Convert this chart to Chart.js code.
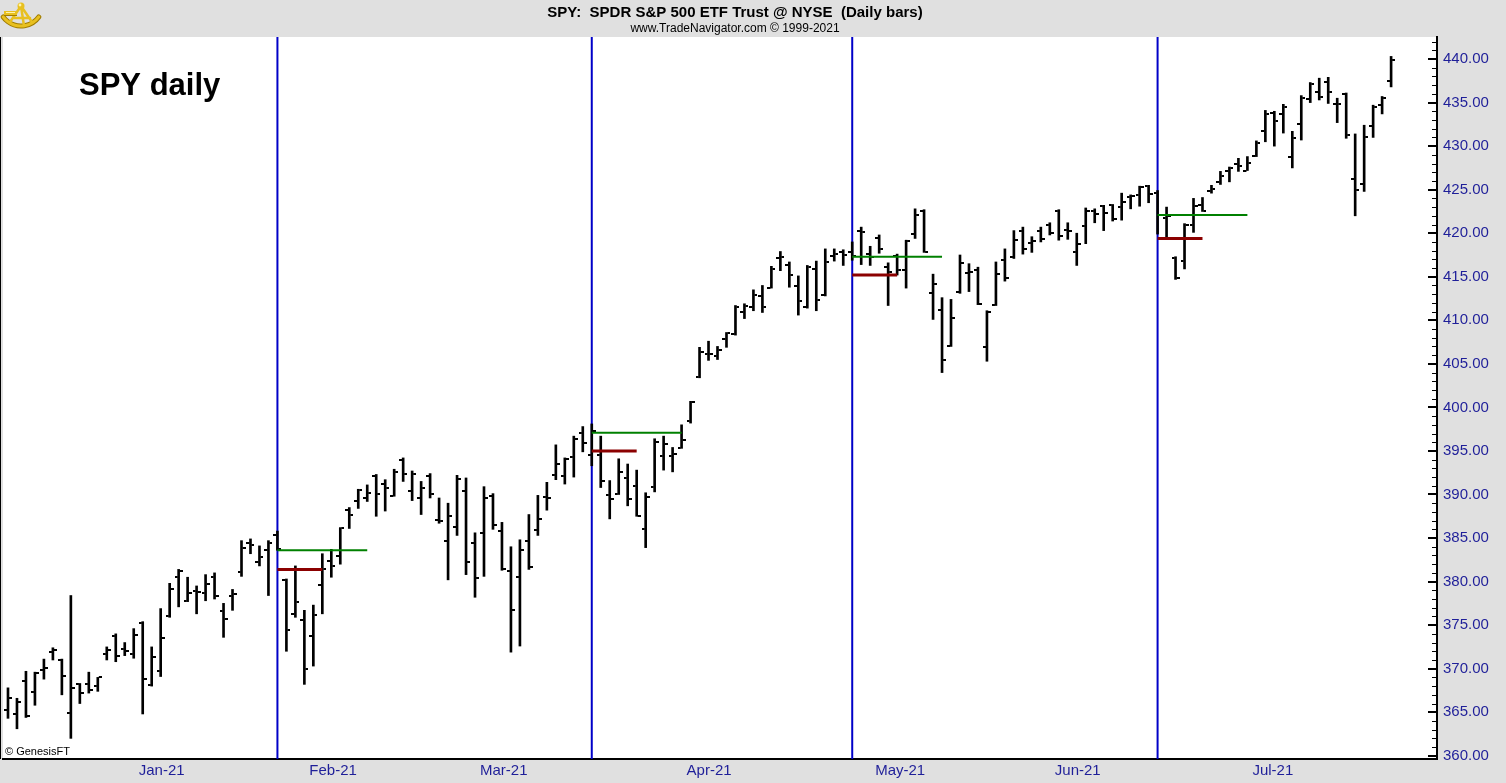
<!DOCTYPE html>
<html>
<head>
<meta charset="utf-8">
<script src="https://cdn.jsdelivr.net/npm/chart.js@4.4.1/dist/chart.umd.min.js"></script>
<style>
html,body{margin:0;padding:0;background:#e0e0e0;overflow:hidden;}
canvas{display:block;}
</style>
</head>
<body>
<canvas id="c" width="1506" height="783"></canvas>
<script>
// ---- DATA (SPY daily, Dec 10 2020 .. Jul 23 2021) ----
const opens = [365.2,364.8,368.6,367.3,369.8,371.9,371.0,364.9,368.2,368.2,368.0,371.7,373.8,372.3,371.7,
375.3,368.1,369.7,376.1,380.5,377.8,378.9,378.7,380.5,376.6,378.3,381.1,384.4,382.2,383.6,
385.4,380.2,376.3,375.6,373.7,379.6,382.4,382.9,388.2,389.3,389.6,392.1,391.2,389.8,394.0,
390.4,389.6,392.1,387.1,384.7,386.3,390.4,384.4,385.6,389.8,385.8,381.2,380.5,384.7,385.9,
389.7,392.2,392.1,394.3,397.1,394.5,394.5,389.9,390.0,391.9,391.0,386.0,390.9,394.4,394.4,
395.3,398.4,403.5,406.1,405.9,407.9,408.4,410.9,411.5,412.8,413.7,417.2,416.3,413.9,411.5,
415.9,412.9,417.4,417.9,417.8,420.3,417.6,419.4,416.1,417.4,415.8,419.9,422.5,413.1,411.2,
407.1,413.2,415.4,415.8,406.9,411.8,416.9,417.3,420.3,418.9,420.2,421.0,422.6,420.4,417.9,
420.8,422.6,423.1,423.2,423.0,424.2,424.4,425.4,424.6,421.7,417.1,416.8,420.9,423.2,424.9,
425.9,427.2,427.9,427.2,428.9,431.7,433.8,433.7,428.8,432.5,435.4,436.2,437.4,434.8,436.0,
426.2,425.7,432.3,434.7,437.5];
const highs = [367.8,366.6,369.7,369.6,371.1,372.4,371.1,378.4,368.3,369.6,369.0,372.5,374.0,373.0,374.6,
375.4,372.5,376.9,379.8,381.4,380.5,379.5,380.8,381.0,377.5,379.1,384.7,384.9,384.1,384.7,
385.8,380.3,381.8,376.7,377.3,383.2,383.7,386.2,388.5,390.6,391.1,392.3,391.7,392.9,394.2,
392.7,391.5,392.4,389.6,389.0,392.2,391.9,385.6,390.9,390.1,386.8,384.0,384.8,387.7,389.9,
391.4,395.7,394.2,396.7,397.8,398.1,396.7,391.6,394.1,393.5,392.8,390.2,396.4,396.7,395.4,
398.0,400.7,406.9,407.6,407.0,408.6,411.7,411.9,413.5,414.0,416.2,417.9,416.7,415.1,416.3,
416.8,418.2,418.2,418.1,419.0,420.7,418.5,419.8,416.6,417.6,419.2,422.8,422.7,415.3,412.6,
412.4,417.5,416.5,416.1,411.1,416.7,418.2,420.3,420.7,419.6,420.7,421.2,422.7,421.2,420.0,
422.9,422.8,423.2,423.3,424.6,424.4,425.4,425.5,424.9,423.0,417.3,421.1,424.0,424.1,425.5,
427.1,427.6,428.6,428.8,430.6,434.1,434.0,434.8,431.7,435.8,437.3,437.8,437.9,435.5,436.1,
431.4,432.4,434.7,435.7,440.3];
const lows = [364.3,363.1,364.4,365.8,368.8,371.0,367.0,362.0,366.0,367.2,367.4,371.0,370.8,371.5,371.2,
364.8,368.0,369.1,375.9,377.1,377.7,376.3,377.8,378.0,373.6,376.7,380.6,383.2,381.8,378.4,
383.6,372.0,375.9,368.2,370.3,376.3,380.5,382.0,386.1,388.4,389.2,387.5,388.1,389.8,391.5,
389.3,387.7,389.6,386.7,380.2,385.3,380.8,378.2,380.6,386.0,381.3,371.9,372.6,381.4,385.3,
388.2,391.7,391.2,392.0,394.9,393.3,390.8,387.2,390.0,388.7,387.5,383.9,390.3,392.8,392.6,
395.3,398.2,403.4,405.4,405.5,406.9,408.3,410.2,411.1,410.9,413.7,415.7,413.8,410.6,411.4,
411.1,412.8,416.8,416.3,416.9,416.4,416.3,417.7,411.7,415.2,413.7,419.4,417.8,410.1,404.0,
407.0,413.1,413.3,411.8,405.3,411.7,414.5,417.1,417.6,417.8,419.0,419.8,419.2,419.3,416.3,
418.8,421.2,420.3,421.4,421.5,422.8,423.1,423.5,419.9,419.3,414.7,415.9,420.1,422.5,424.6,
425.6,425.9,427.1,427.2,428.8,430.5,430.0,431.5,427.5,430.7,435.0,435.3,434.9,432.7,430.9,
422.0,424.8,431.0,433.7,436.8];
const closes = [366.6,366.2,364.6,369.5,370.1,372.2,369.2,367.8,367.2,367.6,369.0,372.2,371.4,372.0,373.9,
368.8,371.3,373.5,379.1,381.2,378.7,378.8,379.7,378.3,375.7,378.6,383.8,384.2,382.8,384.4,
383.7,374.4,377.6,370.0,376.2,381.5,381.8,386.2,387.7,390.5,390.2,390.1,390.7,392.6,392.3,
392.4,390.7,390.0,387.0,387.5,391.8,382.3,380.4,389.6,386.5,381.4,376.7,383.6,381.7,387.2,
389.6,393.5,394.1,396.4,395.9,397.3,391.5,389.5,392.6,389.5,387.5,389.7,396.0,395.8,394.7,
396.3,400.6,406.4,406.1,406.6,408.5,411.5,411.6,412.9,411.5,415.9,417.3,415.2,412.2,416.1,
412.3,416.7,417.6,417.5,417.4,420.1,417.3,418.2,415.6,415.8,419.1,422.1,417.9,414.2,405.4,
410.3,416.6,415.5,411.9,410.9,415.3,414.9,419.2,418.2,419.1,419.3,420.0,419.7,420.3,418.8,
422.6,422.2,422.3,421.6,423.6,424.3,425.3,424.5,422.1,422.0,414.9,420.9,423.1,422.6,425.1,
426.6,427.5,427.7,428.1,430.4,433.7,432.9,434.5,430.9,435.5,437.1,435.6,436.2,434.8,431.3,
425.0,431.1,434.5,435.5,439.9];
const monthLabels = ['Jan-21','Feb-21','Mar-21','Apr-21','May-21','Jun-21','Jul-21'];
const monthStartIdx = [15,34,53,76,97,117,139];
const eventIdx = [30,65,94,128];
const greenLevels = [383.6,397.1,417.3,422.1];
const redLevels = [381.4,395.0,415.2,419.4];
const greenSpan = 10;
const redSpan = 5;
const yTickValues = [360,365,370,375,380,385,390,395,400,405,410,415,420,425,430,435,440];

// ---- styling ----
const FONT = '"Liberation Sans", Arial, sans-serif';
const AXIS_TEXT = '#1f1f99';
const Y_MIN = 359.63, Y_MAX = 442.53;

function tickImage(side) {
  const c = document.createElement('canvas');
  c.width = 8; c.height = 2;
  const g = c.getContext('2d');
  g.fillStyle = '#000';
  if (side === 'L') g.fillRect(0, 0, 3, 2); else g.fillRect(5, 0, 3, 2);
  return c;
}
const openImg = tickImage('L');
const closeImg = tickImage('R');

const datasets = [];
// horizontal level lines (top)
eventIdx.forEach((e, k) => {
  datasets.push({type:'line', order:0, data:[{x:e, y:redLevels[k]},{x:e+redSpan, y:redLevels[k]}],
    borderColor:'#8b0000', borderWidth:3, pointRadius:0, borderCapStyle:'butt'});
  datasets.push({type:'line', order:0, data:[{x:e, y:greenLevels[k]},{x:e+greenSpan, y:greenLevels[k]}],
    borderColor:'#008000', borderWidth:2, pointRadius:0, borderCapStyle:'butt'});
});
// open / close ticks
datasets.push({type:'scatter', order:1, data: opens.map((v,i)=>({x:i, y:v})), pointStyle: openImg, pointRadius:2, pointHoverRadius:2});
datasets.push({type:'scatter', order:1, data: closes.map((v,i)=>({x:i, y:v})), pointStyle: closeImg, pointRadius:2, pointHoverRadius:2});
// high-low bars
datasets.push({type:'bar', order:2, data: highs.map((h,i)=>({x:i, y:[lows[i], h]})),
  backgroundColor:'#000', borderWidth:0, barThickness:2, borderSkipped:false});
// vertical event lines (bottom)
eventIdx.forEach(e => {
  datasets.push({type:'line', order:5, data:[{x:e, y:Y_MIN},{x:e, y:Y_MAX}],
    borderColor:'#0000c8', borderWidth:2, pointRadius:0, borderCapStyle:'butt'});
});

function drawSextant(ctx) {
  ctx.save();
  ctx.translate(2, 1);
  const gold = '#e8c020', dark = '#a07c00', light = '#fff3a8';
  ctx.lineCap = 'round';
  // arc scale
  ctx.strokeStyle = dark; ctx.lineWidth = 5;
  ctx.beginPath(); ctx.arc(19, 3, 22, Math.PI*0.2, Math.PI*0.8); ctx.stroke();
  ctx.strokeStyle = gold; ctx.lineWidth = 3;
  ctx.beginPath(); ctx.arc(19, 3, 22, Math.PI*0.2, Math.PI*0.8); ctx.stroke();
  // frame
  ctx.strokeStyle = gold; ctx.lineWidth = 2.5;
  ctx.beginPath();
  ctx.moveTo(19, 5); ctx.lineTo(8, 21);
  ctx.moveTo(19, 5); ctx.lineTo(30, 21);
  ctx.moveTo(19, 5); ctx.lineTo(22, 25);
  ctx.moveTo(11, 17); ctx.lineTo(28, 17);
  ctx.stroke();
  // telescope
  ctx.fillStyle = dark; ctx.fillRect(2, 10, 13, 5);
  ctx.fillStyle = gold; ctx.fillRect(2, 10, 13, 4);
  ctx.fillStyle = light; ctx.fillRect(4, 11, 9, 1);
  // knob
  ctx.fillStyle = gold;
  ctx.beginPath(); ctx.arc(19, 5, 3.5, 0, Math.PI*2); ctx.fill();
  ctx.fillStyle = light;
  ctx.beginPath(); ctx.arc(18, 4, 1.4, 0, Math.PI*2); ctx.fill();
  ctx.restore();
}

const deco = {
  id: 'deco',
  beforeDraw(chart) {
    const {ctx, chartArea: a} = chart;
    ctx.save();
    ctx.fillStyle = '#e0e0e0';
    ctx.fillRect(0, 0, chart.width, chart.height);
    ctx.fillStyle = '#ffffff';
    ctx.fillRect(a.left, a.top, a.right - a.left, a.bottom - a.top);
    ctx.restore();
  },
  afterDraw(chart) {
    const {ctx, chartArea: a} = chart;
    const y = chart.scales.y;
    ctx.save();
    // left border
    ctx.fillStyle = '#000';
    ctx.fillRect(0, a.top, 1, a.bottom - a.top);
    // y tick marks (inside plot)
    for (let v = Math.ceil(Y_MIN); v <= Math.floor(Y_MAX); v++) {
      const p = Math.round(y.getPixelForValue(v));
      if (v % 5 === 0) ctx.fillRect(a.right - 9, p - 1, 9, 2);
      else ctx.fillRect(a.right - 5, p, 5, 1);
    }
    // header
    ctx.fillStyle = '#000';
    ctx.textAlign = 'center';
    ctx.textBaseline = 'middle';
    ctx.font = 'bold 15px ' + FONT;
    ctx.fillText('SPY:  SPDR S&P 500 ETF Trust @ NYSE  (Daily bars)', 735, 13);
    ctx.font = '12px ' + FONT;
    ctx.fillText('www.TradeNavigator.com \u00A9 1999-2021', 735, 29);
    // chart label
    ctx.textAlign = 'left';
    ctx.textBaseline = 'alphabetic';
    ctx.font = 'bold 31px ' + FONT;
    ctx.fillText('SPY daily', 79, 95);
    ctx.font = '11px ' + FONT;
    ctx.fillText('\u00A9 GenesisFT', 5, 755);
    drawSextant(ctx);
    ctx.restore();
  }
};

new Chart(document.getElementById('c'), {
  type: 'bar',
  data: { datasets },
  options: {
    responsive: false,
    animation: false,
    events: [],
    layout: { padding: { top: 37, left: 0, right: 0, bottom: 0 } },
    plugins: { legend: { display: false }, tooltip: { enabled: false }, title: { display: false } },
    scales: {
      x: {
        type: 'linear', position: 'bottom', offset: false,
        min: -5/9, max: 1432/9,
        grid: { display: false, drawTicks: false },
        border: { display: true, color: '#000', width: 2 },
        afterBuildTicks: s => { s.ticks = monthStartIdx.map(v => ({ value: v })); },
        afterFit: s => { s.height = 24; },
        ticks: {
          autoSkip: false, maxRotation: 0, minRotation: 0, align: 'start', padding: 3, labelOffset: -4,
          color: AXIS_TEXT, font: { family: FONT, size: 15 },
          callback: v => { const k = monthStartIdx.indexOf(v); return k >= 0 ? monthLabels[k] : ''; }
        }
      },
      y: {
        type: 'linear', position: 'right',
        min: Y_MIN, max: Y_MAX,
        grid: { display: false, drawTicks: false },
        border: { display: true, color: '#000', width: 2 },
        afterBuildTicks: s => { s.ticks = yTickValues.map(v => ({ value: v })); },
        afterFit: s => { s.width = 69; },
        ticks: {
          padding: 6, color: AXIS_TEXT, font: { family: FONT, size: 15 },
          callback: v => Number(v).toFixed(2)
        }
      }
    }
  },
  plugins: [deco]
});
</script>
</body>
</html>
